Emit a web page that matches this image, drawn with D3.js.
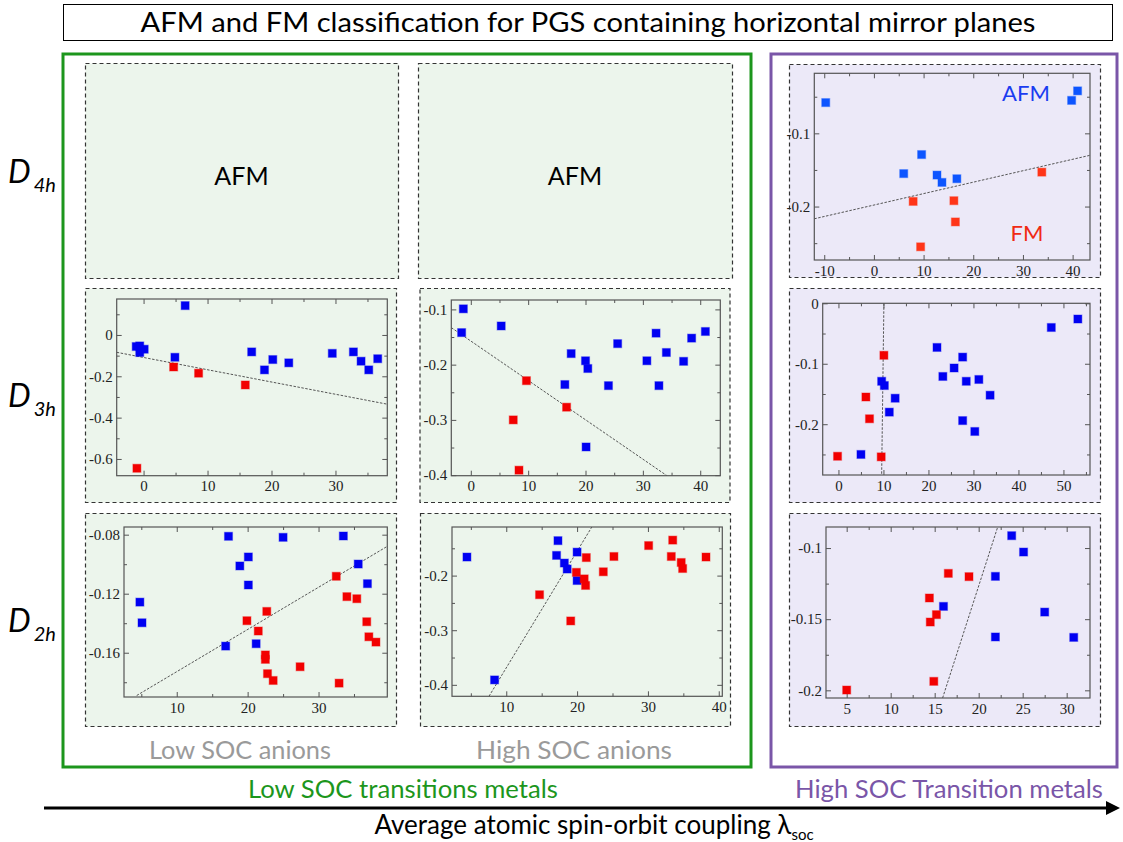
<!DOCTYPE html>
<html>
<head>
<meta charset="utf-8">
<script src="https://cdn.jsdelivr.net/npm/d3@7"></script>
<style>
  body { margin: 0; background: #fff; }
</style>
</head>
<body>
<svg id="fig" width="1123" height="842"></svg>
<script>
// ---- data: [lambda_soc, energy] pairs, AFM (blue) and FM (red) ----
const d4hHighTmAfm = [[-9.7,-0.058],[39.8,-0.055],[41.0,-0.042],[9.6,-0.129],[6.0,-0.155],[12.7,-0.157],[13.7,-0.167],[16.7,-0.162]];
const d4hHighTmFm  = [[7.9,-0.193],[16.1,-0.192],[16.4,-0.221],[9.4,-0.255],[33.8,-0.153]];
const d4hHighTmFit = [[-12,-0.2167],[43.5,-0.130]];

const d3hLowAnAfm = [[-1.15,-0.056],[-0.6,-0.053],[0.1,-0.069],[-0.6,-0.085],[6.5,0.142],[4.9,-0.108],[16.9,-0.082],[18.9,-0.169],[20.2,-0.119],[22.7,-0.135],[29.5,-0.089],[32.8,-0.082],[34.0,-0.127],[35.2,-0.169],[36.6,-0.115]];
const d3hLowAnFm  = [[4.7,-0.155],[8.6,-0.185],[15.9,-0.242],[-1.04,-0.645]];
const d3hLowAnFit = [[-4.2,-0.084],[38.1,-0.335]];

const d3hHighAnAfm = [[-1.3,-0.099],[-1.6,-0.142],[5.3,-0.130],[17.5,-0.180],[16.4,-0.236],[20.0,-0.193],[20.4,-0.207],[20.1,-0.349],[24.0,-0.238],[25.6,-0.162],[30.7,-0.193],[32.3,-0.143],[32.8,-0.238],[34.1,-0.178],[37.1,-0.194],[38.5,-0.152],[40.9,-0.140]];
const d3hHighAnFm  = [[9.7,-0.229],[16.7,-0.277],[7.4,-0.300],[8.4,-0.391]];
const d3hHighAnFit = [[-3.4,-0.133],[34.2,-0.401]];

const d3hHighTmAfm = [[5.0,-0.250],[9.6,-0.129],[10.2,-0.136],[12.6,-0.157],[11.3,-0.180],[21.9,-0.073],[23.2,-0.121],[25.7,-0.107],[27.6,-0.089],[28.4,-0.129],[27.6,-0.194],[30.3,-0.212],[31.2,-0.126],[33.7,-0.152],[47.3,-0.040],[53.2,-0.026]];
const d3hHighTmFm  = [[-0.2,-0.253],[10.1,-0.086],[6.1,-0.155],[6.9,-0.191],[9.5,-0.254]];
const d3hHighTmFit = [[10.1,0],[9.6,-0.284]];

const d2hLowAnAfm = [[4.8,-0.1257],[5.1,-0.1397],[17.3,-0.0811],[18.9,-0.1012],[20.1,-0.0951],[20.1,-0.1141],[25.0,-0.0818],[16.9,-0.1555],[21.2,-0.1539],[33.5,-0.0809],[35.6,-0.0999],[36.9,-0.1132]];
const d2hLowAnFm  = [[19.9,-0.1383],[22.7,-0.1320],[21.5,-0.1453],[22.5,-0.1615],[22.5,-0.1645],[22.8,-0.1742],[23.6,-0.1788],[27.4,-0.1695],[32.5,-0.1082],[34.0,-0.1220],[35.4,-0.1234],[36.8,-0.1390],[37.1,-0.1492],[38.1,-0.1528],[32.9,-0.1806]];
const d2hLowAnFit = [[4.35,-0.189],[39.7,-0.0879]];

const d2hHighAnAfm = [[4.45,-0.166],[17.3,-0.136],[17.1,-0.163],[18.2,-0.177],[18.6,-0.188],[20.0,-0.157],[20.0,-0.209],[8.35,-0.391]];
const d2hHighAnFm  = [[14.7,-0.235],[19.1,-0.283],[19.9,-0.194],[21.0,-0.206],[21.2,-0.218],[21.3,-0.167],[23.7,-0.193],[25.2,-0.165],[30.1,-0.145],[33.5,-0.135],[33.3,-0.165],[34.7,-0.176],[34.9,-0.187],[38.2,-0.166]];
const d2hHighAnFit = [[7.56,-0.421],[22.08,-0.111]];

const d2hHighTmAfm = [[23.75,-0.0913],[25.1,-0.1028],[21.9,-0.1199],[16.0,-0.141],[21.9,-0.1625],[27.5,-0.145],[30.8,-0.1628]];
const d2hHighTmFm  = [[5.0,-0.1998],[14.4,-0.1351],[14.5,-0.152],[15.2,-0.1468],[14.9,-0.1937],[16.55,-0.1178],[18.9,-0.1201]];
const d2hHighTmFit = [[15.9,-0.2054],[22.16,-0.0852]];

// tick values
const ticksX40 = [0, 10, 20, 30, 40];
const minorX40 = [-5, 5, 15, 25, 35];

const rowLabels = [["D", "4h"], ["D", "3h"], ["D", "2h"]];
const colLabels = ["Low SOC anions", "High SOC anions"];
const groupLabels = ["Low SOC transitions metals", "High SOC Transition metals"];

const GREEN = "#1c961c", PURPLE = "#7a56a8";
const BG_GREEN = "#ecf5ec", BG_PURPLE = "#ece9f8";

const svg = d3.select("#fig");
const font = "Lato, 'Open Sans', sans-serif";
const tickFont = "'Liberation Serif', 'DejaVu Serif', serif";

function label(x, y, str, size, color, len) {
  const t = svg.append("text").attr("x", x).attr("y", y).attr("text-anchor", "middle")
    .attr("font-family", font).attr("font-size", size).attr("fill", color).text(str);
  if (len) t.attr("textLength", len).attr("lengthAdjust", "spacingAndGlyphs");
  return t;
}

// title
svg.append("rect").attr("x", 63.5).attr("y", 4.5).attr("width", 1049).attr("height", 36)
  .attr("fill", "#fff").attr("stroke", "#000").attr("stroke-width", 1);
label(588, 32, "AFM and FM classification for PGS containing horizontal mirror planes", 27, "#000", 895);

// group frames
svg.append("rect").attr("x", 63).attr("y", 54).attr("width", 688).attr("height", 713)
  .attr("fill", "none").attr("stroke", GREEN).attr("stroke-width", 3);
svg.append("rect").attr("x", 771).attr("y", 54).attr("width", 346).attr("height", 713)
  .attr("fill", "none").attr("stroke", PURPLE).attr("stroke-width", 3);

const panels = [
  { box: [789, 64, 311, 213], frame: [814.3, 73.3, 1090, 260], xd: [-12, 43.5], yd: [-0.273, -0.018],
    xt: [-10, ...ticksX40], xm: [-5, ...minorX40.slice(1)], yt: [-0.1, -0.2], ym: [-0.05, -0.15, -0.25],
    afm: d4hHighTmAfm, fm: d4hHighTmFm, fit: d4hHighTmFit, bg: BG_PURPLE, blue: "#0d55ff", red: "#ff3518" },
  { box: [85, 288, 311, 214], frame: [116.7, 299, 387.3, 475.7], xd: [-4.2, 38.1], yd: [-0.681, 0.174],
    xt: [0, 10, 20, 30], xm: [-5, 5, 15, 25, 35], yt: [0, -0.2, -0.4, -0.6], ym: [0.1, -0.1, -0.3, -0.5],
    afm: d3hLowAnAfm, fm: d3hLowAnFm, fit: d3hLowAnFit, bg: BG_GREEN },
  { box: [419.5, 288, 310, 214], frame: [451.3, 300, 720.3, 475.7], xd: [-3.4, 43.5], yd: [-0.401, -0.083],
    xt: ticksX40, xm: minorX40, yt: [-0.1, -0.2, -0.3, -0.4], ym: [-0.15, -0.25, -0.35],
    afm: d3hHighAnAfm, fm: d3hHighAnFm, fit: d3hHighAnFit, bg: BG_GREEN },
  { box: [789, 288, 311, 214], frame: [822.7, 303.3, 1090, 475], xd: [-3.5, 55.9], yd: [-0.284, 0],
    xt: [0, 10, 20, 30, 40, 50], xm: [5, 15, 25, 35, 45, 55], yt: [0, -0.1, -0.2], ym: [-0.05, -0.15, -0.25],
    afm: d3hHighTmAfm, fm: d3hHighTmFm, fit: d3hHighTmFit, bg: BG_PURPLE },
  { box: [85, 513, 311, 213], frame: [124, 527, 387.3, 697], xd: [2.56, 39.7], yd: [-0.190, -0.0748],
    xt: [10, 20, 30], xm: [5, 15, 25, 35], yt: [-0.08, -0.12, -0.16], ym: [-0.10, -0.14, -0.18],
    afm: d2hLowAnAfm, fm: d2hLowAnFm, fit: d2hLowAnFit, bg: BG_GREEN },
  { box: [420, 513, 310, 213], frame: [452, 527, 722.3, 696.3], xd: [2.34, 40.5], yd: [-0.421, -0.111],
    xt: [10, 20, 30, 40], xm: [5, 15, 25, 35], yt: [-0.2, -0.3, -0.4], ym: [-0.15, -0.25, -0.35],
    afm: d2hHighAnAfm, fm: d2hHighAnFm, fit: d2hHighAnFit, bg: BG_GREEN },
  { box: [789, 513, 311, 213], frame: [826, 527, 1090, 698], xd: [2.65, 32.65], yd: [-0.2054, -0.0852],
    xt: [5, 10, 15, 20, 25, 30], xm: [7.5, 12.5, 17.5, 22.5, 27.5], yt: [-0.1, -0.15, -0.2], ym: [-0.125, -0.175],
    afm: d2hHighTmAfm, fm: d2hHighTmFm, fit: d2hHighTmFit, bg: BG_PURPLE }
];

function dashedBox(b, fill) {
  svg.append("rect").attr("x", b[0] + 0.5).attr("y", b[1] + 0.5).attr("width", b[2]).attr("height", b[3])
    .attr("fill", fill).attr("stroke", "#333").attr("stroke-width", 1.2).attr("stroke-dasharray", "4,3");
}

// empty D4h panels for the low SOC metals: all AFM
[[85, 63, 313, 215], [418, 63, 314, 215]].forEach(b => {
  dashedBox(b, BG_GREEN);
  label(b[0] + b[2] / 2, b[1] + 122, "AFM", 25, "#000");
});

panels.forEach((p, i) => {
  dashedBox(p.box, p.bg);
  const [x0, y0, x1, y1] = p.frame;
  const x = d3.scaleLinear().domain(p.xd).range([x0, x1]);
  const y = d3.scaleLinear().domain(p.yd).range([y1, y0]);
  const g = svg.append("g");

  g.append("rect").attr("x", x0).attr("y", y0).attr("width", x1 - x0).attr("height", y1 - y0)
    .attr("fill", "none").attr("stroke", "#555").attr("stroke-width", 1.2);

  const fmt = d => String(d);
  const addAxis = (axis, tx, ty) => {
    const a = g.append("g").attr("transform", `translate(${tx},${ty})`).call(axis);
    // axis() writes its own font onto the group, so override after the call
    a.attr("font-family", tickFont).attr("font-size", 15);
    a.select(".domain").remove();
    a.selectAll(".tick line").attr("stroke", "#555");
    a.selectAll(".tick text").style("font-family", tickFont).style("font-size", "15px").attr("fill", "#222");
    return a;
  };
  // major ticks with labels (bottom, left), mirrored on top/right; everything points inward
  addAxis(d3.axisBottom(x).tickValues(p.xt).tickSize(-5).tickPadding(5).tickFormat(fmt), 0, y1);
  addAxis(d3.axisLeft(y).tickValues(p.yt).tickSize(-5).tickPadding(4).tickFormat(fmt), x0, 0);
  addAxis(d3.axisTop(x).tickValues(p.xt).tickSize(-5).tickFormat(""), 0, y0);
  addAxis(d3.axisRight(y).tickValues(p.yt).tickSize(-5).tickFormat(""), x1, 0);
  // minor ticks
  const minorX = p.xm.filter(v => v > p.xd[0] && v < p.xd[1]);
  const minorY = p.ym.filter(v => v > p.yd[0] && v < p.yd[1]);
  addAxis(d3.axisBottom(x).tickValues(minorX).tickSize(-3).tickFormat(""), 0, y1);
  addAxis(d3.axisTop(x).tickValues(minorX).tickSize(-3).tickFormat(""), 0, y0);
  addAxis(d3.axisLeft(y).tickValues(minorY).tickSize(-3).tickFormat(""), x0, 0);
  addAxis(d3.axisRight(y).tickValues(minorY).tickSize(-3).tickFormat(""), x1, 0);

  // fit line, clipped to the frame
  const clipId = "clip" + i;
  svg.append("clipPath").attr("id", clipId).append("rect")
    .attr("x", x0).attr("y", y0).attr("width", x1 - x0).attr("height", y1 - y0);
  g.append("path").attr("clip-path", `url(#${clipId})`)
    .attr("d", d3.line().x(d => x(d[0])).y(d => y(d[1]))(p.fit))
    .attr("fill", "none").attr("stroke", "#555").attr("stroke-width", 1).attr("stroke-dasharray", "2.5,1.5");

  const s = 8;
  const drawMarks = (data, color) => g.selectAll(null).data(data).enter().append("rect")
    .attr("x", d => x(d[0]) - s / 2).attr("y", d => y(d[1]) - s / 2)
    .attr("width", s).attr("height", s)
    .attr("fill", color).attr("stroke", color).attr("stroke-opacity", 0.35).attr("stroke-width", 1.2);
  drawMarks(p.afm, p.blue || "#0000f2");
  drawMarks(p.fm, p.red || "#f20000");
});

// AFM / FM tags in the high SOC D4h panel
label(1026, 101, "AFM", 22, "#1a3cf0");
label(1027, 241, "FM", 22, "#f02a14");

// row labels
[183, 407, 632].forEach((by, i) => {
  const t = svg.append("text").attr("x", 8).attr("y", by)
    .attr("font-family", font).attr("font-style", "italic").attr("font-size", 32).attr("fill", "#000");
  t.append("tspan").text(rowLabels[i][0]);
  t.append("tspan").attr("font-size", 20).attr("dx", 3).attr("dy", 9).text(rowLabels[i][1]);
});

// column labels inside the green frame
label(240, 759, colLabels[0], 25, "#9a9a9a", 182);
label(574, 759, colLabels[1], 25, "#9a9a9a", 196);

// group labels under the frames
label(403, 798, groupLabels[0], 25, GREEN, 310);
label(949, 798, groupLabels[1], 25, PURPLE, 308);

// lambda_soc arrow
svg.append("line").attr("x1", 44).attr("y1", 808).attr("x2", 1108).attr("y2", 808)
  .attr("stroke", "#000").attr("stroke-width", 3);
svg.append("path").attr("d", "M1106,801 L1120,808 L1106,815 Z").attr("fill", "#000");
const ax = svg.append("text").attr("x", 594).attr("y", 834).attr("text-anchor", "middle")
  .attr("font-family", font).attr("font-size", 26).attr("fill", "#000");
ax.append("tspan").text("Average atomic spin-orbit coupling λ");
ax.append("tspan").attr("font-size", 15).attr("dy", 6).text("soc");
</script>
</body>
</html>
